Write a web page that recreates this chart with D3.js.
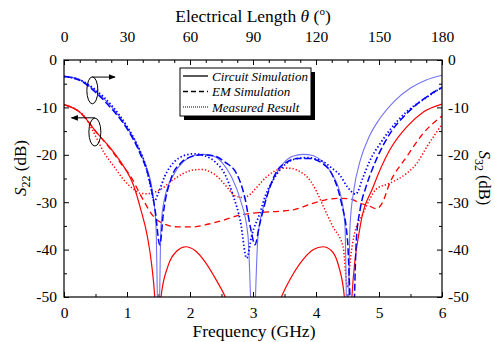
<!DOCTYPE html>
<html>
<head>
<script src="https://d3js.org/d3.v7.min.js"></script>
<style>
  body { margin: 0; background: #fff; }
  text { font-family: "Liberation Serif", "Times New Roman", serif; }
</style>
</head>
<body>
<script>
// ---- data: [frequency GHz, dB] ----
var s32Circuit = [[0,-3.4],[0.25,-4.1],[0.5,-6.5],[0.75,-9.8],[1.0,-14.2],[1.15,-17.6],[1.3,-22.3],[1.4,-27.5],[1.46,-35],[1.5,-60],[1.54,-35],[1.6,-29],[1.75,-24],[1.9,-21.4],[2.05,-20.2],[2.22,-19.9],[2.38,-20.3],[2.52,-21.8],[2.66,-24.7],[2.8,-29.5],[2.92,-37],[3.0,-60],[3.08,-37],[3.2,-29.5],[3.34,-24.7],[3.48,-21.8],[3.63,-20.3],[3.8,-19.9],[3.96,-20.2],[4.1,-21.4],[4.25,-24],[4.4,-29],[4.46,-35],[4.5,-60],[4.54,-35],[4.6,-27.5],[4.7,-21.3],[4.85,-16],[5.0,-12.6],[5.25,-8.6],[5.5,-5.9],[5.75,-4.2],[6,-3.2]];
var s32EM = [[0,-3.5],[0.25,-4.3],[0.5,-6.8],[0.75,-10.2],[1.0,-14.5],[1.2,-19.5],[1.35,-25],[1.45,-32],[1.52,-39],[1.58,-32],[1.7,-25],[1.85,-21.8],[2.0,-20.5],[2.2,-20],[2.4,-20.3],[2.55,-21.5],[2.74,-24],[2.87,-29],[2.97,-36],[3.03,-39],[3.1,-35],[3.22,-28.8],[3.38,-23.4],[3.52,-21.7],[3.7,-20.8],[3.9,-20.8],[4.1,-21.8],[4.25,-24],[4.4,-30],[4.5,-38],[4.58,-60],[4.64,-38],[4.7,-31.6],[4.8,-26.5],[4.91,-22.5],[5.2,-15],[5.44,-11.3],[5.7,-8.3],[6,-5.8]];
var s32Meas = [[0,-3.5],[0.25,-4.2],[0.5,-6.3],[0.75,-9.5],[1.0,-14],[1.2,-19],[1.3,-22.5],[1.38,-27],[1.43,-29.8],[1.5,-28],[1.6,-24.5],[1.75,-21.5],[1.9,-20.2],[2.05,-19.8],[2.2,-20.1],[2.4,-21.5],[2.55,-24],[2.69,-28.8],[2.8,-34],[2.9,-41.8],[2.98,-37],[3.11,-32.3],[3.2,-28.5],[3.32,-25.3],[3.53,-21.8],[3.7,-20.8],[3.85,-20.6],[4.11,-21.4],[4.25,-22.8],[4.38,-24.3],[4.5,-26.8],[4.63,-28.3],[4.75,-24.6],[4.86,-21.1],[5.02,-17.6],[5.17,-14.8],[5.44,-10.9],[5.7,-8.4],[6,-5.7]];
var s22Circuit = [[0,-9.4],[0.25,-11],[0.53,-15.5],[0.75,-18.8],[0.9,-21.5],[1.11,-26.7],[1.22,-31.6],[1.32,-37],[1.39,-43],[1.44,-50],[1.5,-70],[1.54,-50],[1.65,-43.5],[1.8,-40.2],[1.93,-39.4],[2.08,-40.2],[2.25,-42.8],[2.42,-46.5],[2.56,-50],[3.0,-70],[3.45,-50],[3.6,-46],[3.8,-42],[3.96,-40],[4.11,-39.4],[4.25,-40.3],[4.36,-43.5],[4.45,-50],[4.5,-70],[4.57,-50],[4.7,-35.2],[4.91,-26.7],[5.17,-19],[5.44,-14.1],[5.7,-11],[6,-9.3]];
var s22EM = [[0,-9.4],[0.25,-11],[0.53,-15.5],[0.75,-19],[0.9,-21.8],[1.06,-24.6],[1.22,-28.6],[1.42,-33],[1.63,-34.8],[1.8,-35.2],[2.05,-35.2],[2.3,-34.6],[2.53,-33.8],[2.79,-32.7],[3.0,-32.3],[3.32,-32],[3.64,-31.6],[3.96,-30.2],[4.15,-29.5],[4.33,-29.2],[4.54,-29.3],[4.7,-30.2],[4.86,-30.9],[4.96,-31.4],[5.05,-30.2],[5.17,-26],[5.44,-20.4],[5.7,-15.5],[6,-11.8]];
var s22Meas = [[0,-9.4],[0.2,-10.5],[0.32,-11.8],[0.46,-15],[0.63,-19.4],[0.8,-22.6],[0.95,-25.3],[1.1,-27.2],[1.21,-28.1],[1.32,-28.2],[1.52,-27.4],[1.73,-25.3],[1.9,-23.9],[2.05,-23.2],[2.2,-23.1],[2.32,-23.6],[2.45,-24.8],[2.58,-26.7],[2.72,-28.7],[2.85,-29],[2.95,-28.4],[3.05,-27],[3.22,-24.6],[3.35,-23.4],[3.5,-22.8],[3.62,-22.9],[3.75,-23.6],[3.87,-24.8],[4.0,-27.5],[4.12,-31],[4.27,-35.2],[4.43,-39.4],[4.5,-48],[4.55,-41.5],[4.6,-37.3],[4.75,-32.3],[4.86,-29.2],[4.95,-27.3],[5.17,-26],[5.44,-23.9],[5.6,-21.8],[5.76,-18.3],[5.9,-15.5],[6,-13.6]];

var freqTicks = [0, 1, 2, 3, 4, 5, 6];
var angleTicks = [0, 30, 60, 90, 120, 150, 180];
var dbTicks = [0, -10, -20, -30, -40, -50];
var legendNames = ["Circuit Simulation", "EM Simulation", "Measured Result"];

var w = 495, h = 342
var svg = d3.select('body').append('svg')
svg.attr('width', w).attr('height', h);

var pL = 64, pR = 442, pT = 60, pB = 297

var x = d3.scaleLinear().domain([0, 6]).range([pL, pR])
var xa = d3.scaleLinear().domain([0, 180]).range([pL, pR])
var y = d3.scaleLinear().domain([-50, 0]).range([pB, pT])

svg.append("clipPath").attr("id", "clip")
    .append("rect").attr("x", pL).attr("y", pT)
    .attr("width", pR - pL).attr("height", pB - pT)

var fmt = d => String(d)

function styleAxis(g) {
    g.select(".domain").remove()
    g.selectAll("line").attr("stroke", "#000").attr("stroke-width", 1)
    g.selectAll("text").attr("font-size", 15.5).attr("fill", "#000")
        .attr("font-family", "Liberation Serif, serif")
}

// bottom
svg.append("g").attr("transform", "translate(0," + pB + ")")
    .call(d3.axisBottom(x).tickValues(d3.range(0.5, 6, 1)).tickSize(-3).tickFormat(""))
    .call(styleAxis)
svg.append("g").attr("transform", "translate(0," + pB + ")")
    .call(d3.axisBottom(x).tickValues(freqTicks).tickSize(-5).tickPadding(10).tickFormat(fmt))
    .call(styleAxis)
// top
svg.append("g").attr("transform", "translate(0," + pT + ")")
    .call(d3.axisTop(xa).tickValues(d3.range(7.5, 180, 7.5).filter(d => d % 30)).tickSize(-3).tickFormat(""))
    .call(styleAxis)
svg.append("g").attr("transform", "translate(0," + pT + ")")
    .call(d3.axisTop(xa).tickValues(angleTicks).tickSize(-5).tickPadding(18).tickFormat(fmt))
    .call(styleAxis)
// left
svg.append("g").attr("transform", "translate(" + pL + ",0)")
    .call(d3.axisLeft(y).tickValues(d3.range(-45, 0, 10)).tickSize(-3).tickFormat(""))
    .call(styleAxis)
svg.append("g").attr("transform", "translate(" + pL + ",0)")
    .call(d3.axisLeft(y).tickValues(dbTicks).tickSize(-5).tickPadding(7).tickFormat(fmt))
    .call(styleAxis)
// right
svg.append("g").attr("transform", "translate(" + pR + ",0)")
    .call(d3.axisRight(y).tickValues(d3.range(-45, 0, 10)).tickSize(-3).tickFormat(""))
    .call(styleAxis)
svg.append("g").attr("transform", "translate(" + pR + ",0)")
    .call(d3.axisRight(y).tickValues(dbTicks).tickSize(-5).tickPadding(6).tickFormat(fmt))
    .call(styleAxis)

// curves
var line = d3.line().x(d => x(d[0])).y(d => y(d[1])).curve(d3.curveMonotoneX)
var plot = svg.append("g").attr("clip-path", "url(#clip)")

var series = [
    { data: s22EM, color: "#ff0000", width: 1.3, dash: "6,4" },
    { data: s22Meas, color: "#ff0000", width: 1.5, dash: "1.3,2" },
    { data: s22Circuit, color: "#ff0000", width: 1.2, dash: null },
    { data: s32Circuit, color: "#7373f2", width: 1.1, dash: null },
    { data: s32EM, color: "#0000ff", width: 1.5, dash: "7,3" },
    { data: s32Meas, color: "#0000ff", width: 1.8, dash: "1.4,2.2" }
]
series.forEach(function (s) {
    plot.append("path").datum(s.data)
        .attr("d", line)
        .attr("fill", "none")
        .attr("stroke", s.color)
        .attr("stroke-width", s.width)
        .attr("stroke-dasharray", s.dash)
})

// frame
svg.append("rect").attr("x", pL).attr("y", pT)
    .attr("width", pR - pL).attr("height", pB - pT)
    .attr("fill", "none").attr("stroke", "#000").attr("stroke-width", 1.2)

// ellipses + arrows
var defs = svg.append("defs")
defs.append("marker").attr("id", "arr").attr("viewBox", "0 0 10 10")
    .attr("refX", 9).attr("refY", 5).attr("markerWidth", 7).attr("markerHeight", 7)
    .attr("orient", "auto-start-reverse")
    .append("path").attr("d", "M0,1 L10,5 L0,9 Z").attr("fill", "#000")

svg.append("ellipse").attr("cx", x(0.45)).attr("cy", y(-6.4)).attr("rx", 5.5).attr("ry", 13.5)
    .attr("fill", "none").attr("stroke", "#000").attr("stroke-width", 1)
svg.append("line").attr("x1", x(0.45)).attr("y1", y(-3.6)).attr("x2", x(0.81)).attr("y2", y(-3.6))
    .attr("stroke", "#000").attr("stroke-width", 1).attr("marker-end", "url(#arr)")

svg.append("ellipse").attr("cx", x(0.49)).attr("cy", y(-15.2)).attr("rx", 6).attr("ry", 14)
    .attr("fill", "none").attr("stroke", "#000").attr("stroke-width", 1)
svg.append("line").attr("x1", x(0.49)).attr("y1", y(-12.2)).attr("x2", x(0.12)).attr("y2", y(-12.2))
    .attr("stroke", "#000").attr("stroke-width", 1).attr("marker-end", "url(#arr)")

// legend
var lg = svg.append("g")
lg.append("rect").attr("x", 184).attr("y", 72).attr("width", 131).attr("height", 48).attr("fill", "#000")
lg.append("rect").attr("x", 180).attr("y", 68).attr("width", 131).attr("height", 48)
    .attr("fill", "#fff").attr("stroke", "#000").attr("stroke-width", 1)
var legDash = [null, "5,3", "1,1"]
legendNames.forEach(function (n, i) {
    var yy = 76 + i * 15.5
    lg.append("line").attr("x1", 183).attr("x2", 208).attr("y1", yy).attr("y2", yy)
        .attr("stroke", "#000").attr("stroke-width", i == 2 ? 1 : 1.3).attr("stroke-dasharray", legDash[i])
    lg.append("text").attr("x", 212).attr("y", yy + 4.5)
        .attr("font-size", 13).attr("font-style", "italic").text(n)
})

// axis titles
var t = svg.append("text").attr("x", (pL + pR) / 2).attr("y", 22)
    .attr("text-anchor", "middle").attr("font-size", 17.5)
t.append("tspan").text("Electrical Length ")
t.append("tspan").attr("font-style", "italic").text("θ")
t.append("tspan").text(" (")
t.append("tspan").attr("font-size", 11).attr("dy", -7).text("o")
t.append("tspan").attr("dy", 7).text(")")

svg.append("text").attr("x", (pL + pR) / 2 + 1).attr("y", 337)
    .attr("text-anchor", "middle").attr("font-size", 17.5).text("Frequency (GHz)")

var yl = svg.append("text").attr("transform", "translate(26,168) rotate(-90)")
    .attr("text-anchor", "middle").attr("font-size", 17)
yl.append("tspan").attr("font-style", "italic").text("S")
yl.append("tspan").attr("font-size", 12).attr("dy", 4).text("22")
yl.append("tspan").attr("dy", -4).text(" (dB)")

var yr = svg.append("text").attr("transform", "translate(479,178) rotate(90)")
    .attr("text-anchor", "middle").attr("font-size", 16.5)
yr.append("tspan").attr("font-style", "italic").text("S")
yr.append("tspan").attr("font-size", 12).attr("dy", 4).text("32")
yr.append("tspan").attr("dy", -4).text(" (dB)")
</script>
</body>
</html>
